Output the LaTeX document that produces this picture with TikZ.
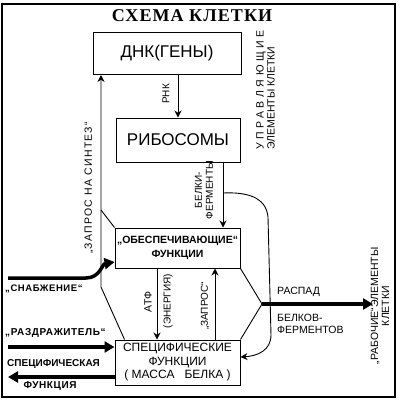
\documentclass[tikz,border=0pt]{standalone}
\usepackage{fontspec}
\setmainfont{Liberation Sans}
\newfontfamily\titlefont[LetterSpace=6]{Liberation Serif}
\newfontfamily\spfont[LetterSpace=12]{Liberation Sans}
\newfontfamily\widefont[LetterSpace=34]{Liberation Sans}
\newfontfamily\midfont[LetterSpace=6]{Liberation Sans}
\usetikzlibrary{arrows.meta}
\begin{document}
\begin{tikzpicture}[x=1pt,y=-1pt,
  box/.style={draw, line width=1pt, inner sep=0pt, align=center},
  conn/.style={line width=0.9pt},
  tip/.style={-{Stealth[length=7pt,width=7pt]}},
  fat/.style={line width=3.5pt, -{Triangle[length=10pt,width=11pt]}},
  lbl/.style={inner sep=0pt, font=\fontsize{10}{11}\selectfont, align=center},
  rlbl/.style={lbl, rotate=90}]
\useasboundingbox (0,0) rectangle (400,400);
\draw[line width=1.2pt] (2,4) rectangle (395,397);

\node[inner sep=0pt, font=\titlefont\bfseries\fontsize{18}{20}\selectfont] (title) at (192,16) {СХЕМА КЛЕТКИ};

\node[box, minimum width=148pt, minimum height=42pt, font=\fontsize{17}{19}\selectfont] (dna) at (167,53.5) {ДНК(ГЕНЫ)};
\node[box, minimum width=124pt, minimum height=44pt, font=\fontsize{17}{19}\selectfont] (rib) at (178,140) {РИБОСОМЫ};
\node[box, minimum width=125pt, minimum height=40pt, font=\bfseries\fontsize{10.5}{14}\selectfont] (ob) at (177.5,248) {„ОБЕСПЕЧИВАЮЩИЕ“\\ФУНКЦИИ};
\node[box, minimum width=125pt, minimum height=45pt, font=\fontsize{12}{13.5}\selectfont] (sp) at (177.5,362.5) {СПЕЦИФИЧЕСКИЕ\\ФУНКЦИИ\\( МАССА \ \ БЕЛКА )};

\coordinate (xr) at (178,0);
\coordinate (xb) at (223,0);
\coordinate (xz) at (101,0);
\coordinate (xa) at (157,0);
\coordinate (xq) at (215,0);
\coordinate (br) at (223,193);
\coordinate (zl) at (101,287);
\coordinate (zm) at (101,210);
\coordinate (rp) at (262,304);
\coordinate (rend) at (373,304);
\coordinate (sn0) at (8,278);
\coordinate (sn1) at (86,278);
\coordinate (sn2) at (0,262);
\coordinate (rz0) at (8,347);
\coordinate (rz1) at (0,347);
\coordinate (sf0) at (8,377);
\coordinate (sf1) at (0,377);
\coordinate (cv1) at (268,217);
\coordinate (cv2) at (271,335);
\coordinate (cv3) at (0,357);

% РНК
\draw[conn,tip] (dna.south -| xr) -- (rib.north -| xr);
\node[rlbl] (rnk) at (166,94) {РНК};
% белки-ферменты
\draw[conn,tip] (rib.south -| xb) -- (ob.north -| xb);
\node[rlbl] (belki) at (204,190) {БЕЛКИ-\\ФЕРМЕНТЫ};
% curve to specific
\draw[conn,tip] (br) .. controls (245,192) and (266,196) .. (cv1) -- (cv2) .. controls (271,350) and (258,356) .. (sp.east |- cv3);
% запрос на синтез
\draw[conn,tip] ([xshift=10pt]sp.north west) -- (zl) -- (dna.south -| xz);
\draw[conn] (zm) -- (ob.north west);
\node[rlbl, font=\spfont\fontsize{10.5}{12}\selectfont] (zs) at (89,188) {„ЗАПРОС НА СИНТЕЗ“};
% распад
\draw[conn] (ob.south east) -- (rp) -- (sp.north east);
\draw[fat] (rp) -- (rend);
\node[lbl, anchor=west, font=\fontsize{10.5}{12}\selectfont] (rasp) at (277,292) {РАСПАД};
\node[lbl, anchor=west, align=left, font=\fontsize{10.5}{12}\selectfont] (belf) at (277,324) {БЕЛКОВ-\\ФЕРМЕНТОВ};
% снабжение
\draw[fat] (sn0) -- (sn1) .. controls (100,278) and (102,264) .. (ob.west |- sn2);
\node[lbl, anchor=west, font=\midfont\bfseries\fontsize{9.5}{11}\selectfont] (snab) at (5,289) {„СНАБЖЕНИЕ“};
% раздражитель
\draw[fat] (rz0) -- (sp.west |- rz1);
\node[lbl, anchor=west, font=\midfont\bfseries\fontsize{10}{11}\selectfont] (razd) at (5,333) {„РАЗДРАЖИТЕЛЬ“};
% специфическая функция
\draw[fat] (sp.west |- sf1) -- (sf0);
\node[lbl, anchor=west, font=\bfseries\fontsize{10}{11}\selectfont] (spf1) at (7,364) {СПЕЦИФИЧЕСКАЯ};
\node[lbl, font=\midfont\bfseries\fontsize{10}{11}\selectfont] (spf2) at (50,386) {ФУНКЦИЯ};
% АТФ
\draw[conn,tip] (ob.south -| xa) -- (sp.north -| xa);
\node[rlbl, font=\midfont\fontsize{10.5}{11}\selectfont] (atf) at (148,302) {АТФ};
\node[rlbl] (en) at (168,301) {(ЭНЕРГИЯ)};
% запрос
\draw[conn,tip] (sp.north -| xq) -- (ob.south -| xq);
\node[rlbl] (zap) at (205,306) {„ЗАПРОС“};
% side labels
\node[rlbl, anchor=south west, font=\widefont\fontsize{10.5}{11}\selectfont] (upr) at (266,150) {УПРАВЛЯЮЩИЕ};
\node[rlbl, anchor=north west, font=\fontsize{10.5}{11}\selectfont] (upr2) at (267,150) {ЭЛЕМЕНТЫ КЛЕТКИ};
\node[rlbl, font=\fontsize{10.5}{11}\selectfont] (rab) at (380,306) {„РАБОЧИЕ“ЭЛЕМЕНТЫ\\КЛЕТКИ};
\end{tikzpicture}
\end{document}
